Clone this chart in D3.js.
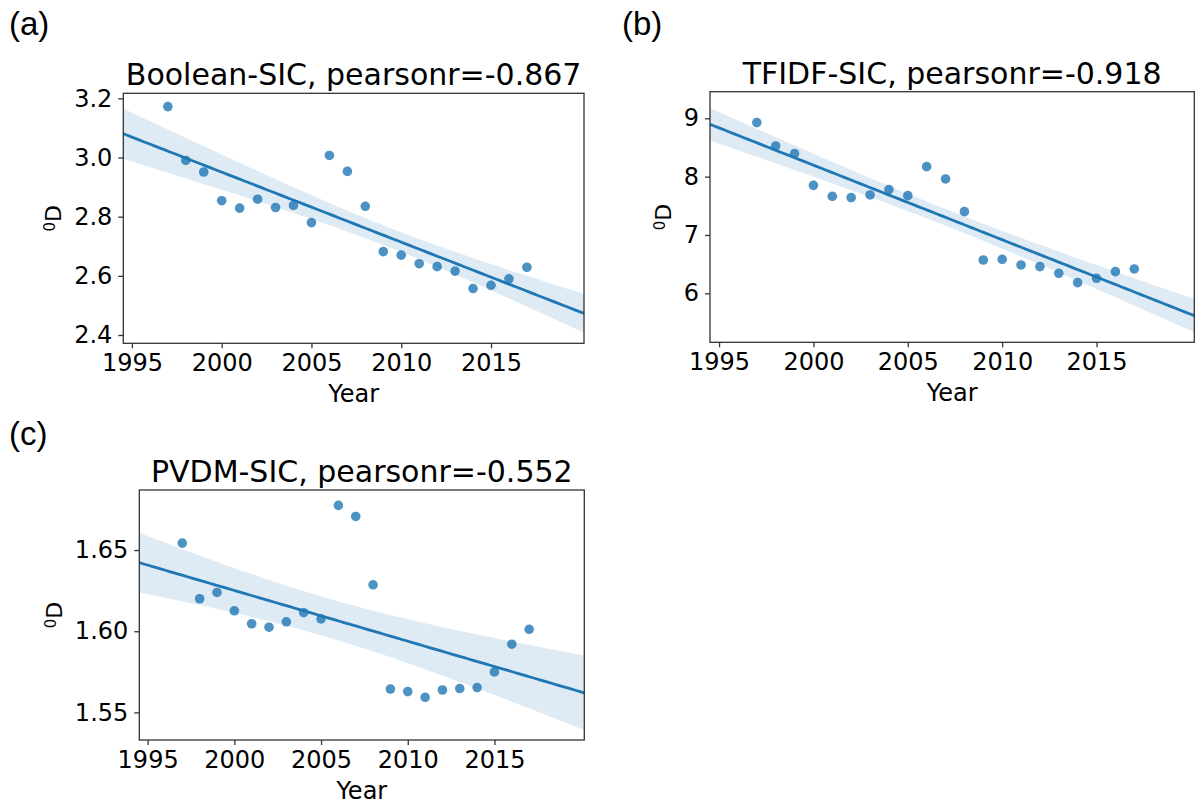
<!DOCTYPE html>
<html>
<head>
<meta charset="utf-8">
<script src="https://cdn.jsdelivr.net/npm/d3@7"></script>
<style>
  body { margin: 0; background: #fff; }
  text { font-family: "DejaVu Sans", sans-serif; fill: #000; }
</style>
</head>
<body>
<svg id="chart" width="1202" height="805"></svg>
<script>
// data
var years = [1997, 1998, 1999, 2000, 2001, 2002, 2003, 2004, 2005, 2006, 2007,
             2008, 2009, 2010, 2011, 2012, 2013, 2014, 2015, 2016, 2017];
var booleanSIC = [3.172, 2.990, 2.951, 2.854, 2.829, 2.859, 2.831, 2.838, 2.780, 3.007, 2.953,
                  2.835, 2.682, 2.670, 2.641, 2.631, 2.616, 2.557, 2.568, 2.590, 2.629];
var tfidfSIC = [8.926, 8.526, 8.394, 7.851, 7.663, 7.640, 7.686, 7.777, 7.674, 8.171, 7.960,
                7.400, 6.571, 6.583, 6.486, 6.457, 6.343, 6.183, 6.257, 6.371, 6.417];
var pvdmSIC = [1.6543, 1.6200, 1.6239, 1.6126, 1.6046, 1.6025, 1.6058, 1.6114, 1.6076, 1.6775, 1.6707,
               1.6286, 1.5644, 1.5628, 1.5593, 1.5638, 1.5647, 1.5653, 1.5749, 1.5920, 1.6012];

var xTicks = [1995, 2000, 2005, 2010, 2015];
var yTicksA = [2.4, 2.6, 2.8, 3.0, 3.2];
var yTicksB = [6, 7, 8, 9];
var yTicksC = [1.55, 1.60, 1.65];
var titles = ["Boolean-SIC, pearsonr=-0.867", "TFIDF-SIC, pearsonr=-0.918", "PVDM-SIC, pearsonr=-0.552"];
var panelLabels = ["(a)", "(b)", "(c)"];

var xDomain = [1994.52, 2020.18];

var panels = [
  {values: booleanSIC, yTicks: yTicksA, fmt: ".1f", yDomain: [2.372, 3.217],
   left: 123.3, right: 584, top: 93.3, bottom: 343.3, label: [9, 35], ylab: 61},
  {values: tfidfSIC, yTicks: yTicksB, fmt: "d", yDomain: [5.16, 9.456],
   left: 710, right: 1194.3, top: 91.7, bottom: 342.3, label: [622, 35], ylab: 671},
  {values: pvdmSIC, yTicks: yTicksC, fmt: ".2f", yDomain: [1.533, 1.687],
   left: 139.3, right: 584.3, top: 490, bottom: 740, label: [9, 445], ylab: 62}
];

var blue = "#1f77b4";
var svg = d3.select("#chart");

// least squares fit with a robust (sandwich) 95% band, close to seaborn's bootstrap
function fit(xs, ys) {
  var n = xs.length, mx = d3.mean(xs), my = d3.mean(ys);
  var sxx = d3.sum(xs, function(x) { return (x - mx) * (x - mx); });
  var sxy = d3.sum(xs, function(x, i) { return (x - mx) * (ys[i] - my); });
  var b = sxy / sxx;
  var r2 = xs.map(function(x, i) { var r = ys[i] - (my + b * (x - mx)); return r * r; });
  var vm = d3.sum(r2) / (n * n);
  var vb = d3.sum(xs, function(x, i) { return (x - mx) * (x - mx) * r2[i]; }) / (sxx * sxx);
  var cv = d3.sum(xs, function(x, i) { return (x - mx) * r2[i]; }) / (n * sxx);
  return function(x) {
    var dx = x - mx;
    var yhat = my + b * dx;
    var h = 1.96 * Math.sqrt(vm + 2 * dx * cv + dx * dx * vb);
    return {x: x, y: yhat, lo: yhat - h, hi: yhat + h};
  };
}

panels.forEach(function(p, k) {
  var x = d3.scaleLinear().domain(xDomain).range([p.left, p.right]);
  var y = d3.scaleLinear().domain(p.yDomain).range([p.bottom, p.top]);
  var g = svg.append("g");

  var model = fit(years, p.values);
  var grid = d3.range(101).map(function(i) {
    return model(xDomain[0] + (xDomain[1] - xDomain[0]) * i / 100);
  });

  g.append("path")
    .datum(grid)
    .attr("fill", blue)
    .attr("fill-opacity", 0.15)
    .attr("d", d3.area().x(function(d) { return x(d.x); })
      .y0(function(d) { return y(d.lo); }).y1(function(d) { return y(d.hi); }));

  g.selectAll("circle")
    .data(years)
    .enter()
    .append("circle")
    .attr("cx", function(d) { return x(d); })
    .attr("cy", function(d, i) { return y(p.values[i]); })
    .attr("r", 4.8)
    .attr("fill", blue)
    .attr("fill-opacity", 0.8);

  g.append("path")
    .datum(grid)
    .attr("fill", "none")
    .attr("stroke", blue)
    .attr("stroke-width", 2.8)
    .attr("d", d3.line().x(function(d) { return x(d.x); }).y(function(d) { return y(d.y); }));

  // frame
  g.append("rect")
    .attr("x", p.left).attr("y", p.top)
    .attr("width", p.right - p.left).attr("height", p.bottom - p.top)
    .attr("fill", "none").attr("stroke", "#333").attr("stroke-width", 1.3);

  var xAxis = g.append("g")
    .attr("transform", "translate(0," + p.bottom + ")")
    .call(d3.axisBottom(x).tickValues(xTicks).tickFormat(d3.format("d")).tickSize(5).tickPadding(6));
  var yAxis = g.append("g")
    .attr("transform", "translate(" + p.left + ",0)")
    .call(d3.axisLeft(y).tickValues(p.yTicks).tickFormat(d3.format(p.fmt)).tickSize(5).tickPadding(6));

  [xAxis, yAxis].forEach(function(a) {
    a.select(".domain").remove();
    a.selectAll("line").attr("stroke", "#333").attr("stroke-width", 1.3);
    a.selectAll("text").attr("font-family", "DejaVu Sans").attr("font-size", 24).attr("fill", "#000");
  });

  var cx = (p.left + p.right) / 2;
  g.append("text")
    .attr("x", cx).attr("y", p.top - 8)
    .attr("text-anchor", "middle")
    .attr("font-size", 30)
    .text(titles[k]);

  g.append("text")
    .attr("x", cx).attr("y", p.bottom + 59)
    .attr("text-anchor", "middle")
    .attr("font-size", 24)
    .text("Year");

  var yl = g.append("text")
    .attr("transform", "translate(" + p.ylab + "," + (p.top + p.bottom) / 2 + ") rotate(-90)")
    .attr("text-anchor", "middle")
    .attr("font-size", 22);
  yl.append("tspan").attr("font-size", 15).attr("dy", -6).text("0");
  yl.append("tspan").attr("dy", 6).text("D");

  svg.append("text")
    .attr("x", p.label[0]).attr("y", p.label[1])
    .style("font-family", "'Liberation Sans', Arial, sans-serif")
    .attr("font-size", 33)
    .text(panelLabels[k]);
});
</script>
</body>
</html>
